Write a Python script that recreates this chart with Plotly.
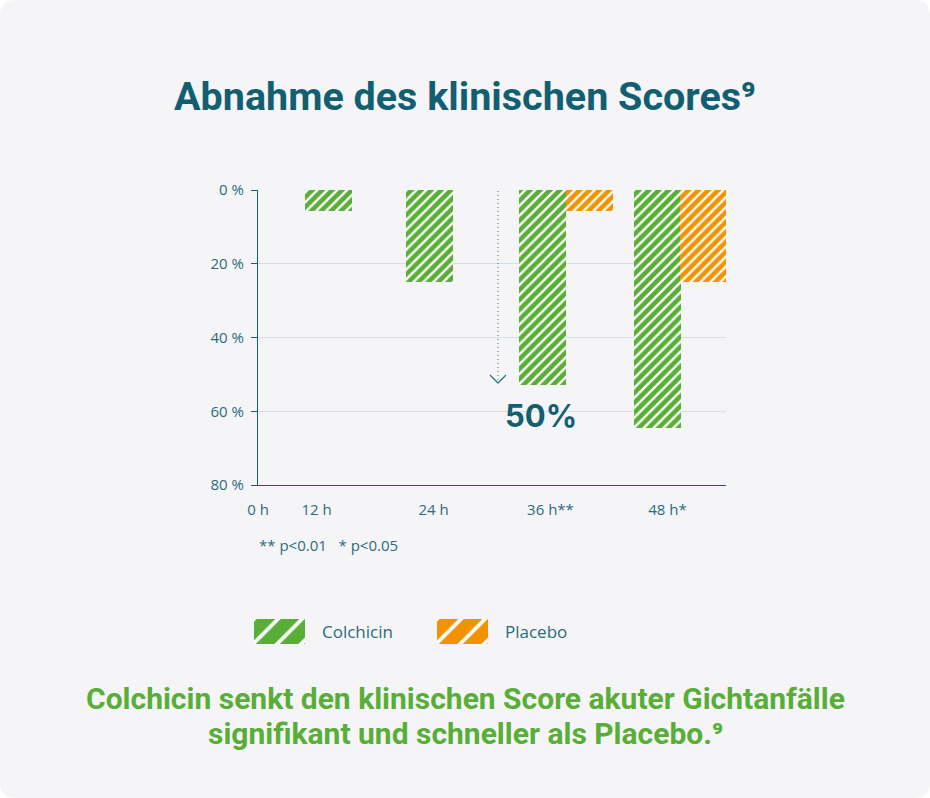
import plotly.graph_objects as go

# ---------------- data ----------------
categories = ["12 h", "24 h", "36 h**", "48 h*"]
origin_label = "0 h"
colchicin = [5.7, 25.0, 53.0, 64.5]
placebo = [None, None, 5.7, 25.0]
y_ticks = [0, 20, 40, 60, 80]
series_names = ["Colchicin", "Placebo"]

# ---------------- style ----------------
W, H = 930, 798
GREEN = "#58ae36"
ORANGE = "#f39200"
TEAL = "#135f72"
LABEL = "#2a6b7e"
GRID = "#d9dee6"
BG = "#f5f5f8"
FONT = "Open Sans"

def px(x):
    return x / W

def py(y):
    return 1 - y / H

# per-bar horizontal offsets (in category units) reproducing the original layout
green_offsets = [-0.098, -0.235, -0.269, -0.286]
orange_offsets = [0.0, 0.0, 0.132, 0.107]
bar_w = 0.398

xpos = list(range(len(categories)))

def hatch(color, size, solidity):
    return dict(color=color, line=dict(width=0),
                pattern=dict(shape="/", fgcolor="#ffffff", fgopacity=1,
                             bgcolor=color, size=size, solidity=solidity,
                             fillmode="overlay"))

fig = go.Figure()
fig.add_trace(go.Bar(
    x=xpos, y=colchicin, name=series_names[0],
    width=[bar_w] * len(xpos), offset=green_offsets,
    marker=hatch(GREEN, 7, 0.33), showlegend=False,
))
fig.add_trace(go.Bar(
    x=xpos, y=placebo, name=series_names[1],
    width=[bar_w] * len(xpos), offset=orange_offsets,
    marker=hatch(ORANGE, 7, 0.33), showlegend=False,
))

# legend swatches (own invisible axes)
fig.add_trace(go.Bar(
    x=[0], y=[1], width=[1], xaxis="x2", yaxis="y2", showlegend=False,
    hoverinfo="skip", marker=hatch(GREEN, 17, 0.22),
))
fig.add_trace(go.Bar(
    x=[0], y=[1], width=[1], xaxis="x3", yaxis="y2", showlegend=False,
    hoverinfo="skip", marker=hatch(ORANGE, 17, 0.22),
))

tick_font = dict(family=FONT, size=15, color=LABEL)

fig.update_layout(
    width=W, height=H,
    autosize=False,
    margin=dict(l=0, r=0, t=0, b=0, pad=0, autoexpand=False),
    paper_bgcolor="white",
    plot_bgcolor="rgba(0,0,0,0)",
    barmode="overlay",
    bargap=0,
    showlegend=False,
    xaxis=dict(
        domain=[px(258), px(726)],
        range=[-0.5, len(categories) - 0.5],
        tickmode="array",
        tickvals=[-0.5] + xpos,
        ticktext=[origin_label] + categories,
        tickfont=tick_font,
        showgrid=False, zeroline=False,
        showline=True, linecolor=TEAL, linewidth=1.2,
        ticks="", ticklabelstandoff=11,
        automargin=False,
        fixedrange=True,
    ),
    yaxis=dict(
        domain=[py(485), py(190)],
        range=[80, 0],
        tickmode="array",
        tickvals=y_ticks,
        ticktext=[f"{v} %" for v in y_ticks],
        tickfont=tick_font,
        showgrid=True, gridcolor=GRID, gridwidth=1,
        zeroline=False,
        showline=True, linecolor=TEAL, linewidth=1.2,
        ticks="outside", ticklen=6, tickcolor=TEAL, tickwidth=1.2,
        ticklabelstandoff=4,
        automargin=False,
        fixedrange=True,
    ),
    xaxis2=dict(domain=[px(254), px(305)], range=[-0.5, 0.5], visible=False,
                anchor="y2", fixedrange=True, automargin=False),
    xaxis3=dict(domain=[px(437), px(488)], range=[-0.5, 0.5], visible=False,
                anchor="y2", fixedrange=True, automargin=False),
    yaxis2=dict(domain=[py(644), py(619)], range=[0, 1], visible=False,
                anchor="x2", fixedrange=True, automargin=False),
)

# rounded card background
r = 16
x0, y0, x1, y1 = 0, 0, W, H
def P(x, y):
    return f"{px(x):.5f},{py(y):.5f}"
path = (f"M {P(x0 + r, y0)} L {P(x1 - r, y0)} Q {P(x1, y0)} {P(x1, y0 + r)} "
        f"L {P(x1, y1 - r)} Q {P(x1, y1)} {P(x1 - r, y1)} "
        f"L {P(x0 + r, y1)} Q {P(x0, y1)} {P(x0, y1 - r)} "
        f"L {P(x0, y0 + r)} Q {P(x0, y0)} {P(x0 + r, y0)} Z")
fig.add_shape(type="path", path=path, xref="paper", yref="paper",
              fillcolor=BG, line=dict(width=0), layer="below")

# dotted arrow
fig.add_shape(type="line", xref="paper", yref="paper",
              x0=px(498), x1=px(498), y0=py(191), y1=py(382),
              line=dict(color="#3f7f90", width=1.1, dash="1px,3px"))
fig.add_shape(type="path", xref="paper", yref="paper",
              path=f"M {P(490, 375)} L {P(498, 383)} L {P(506, 375)}",
              line=dict(color="#2f7487", width=1.3))

# texts
fig.add_annotation(text="Abnahme des klinischen Scores⁹",
                   x=px(465), y=py(97), xref="paper", yref="paper",
                   showarrow=False, xanchor="center", yanchor="middle",
                   font=dict(family="Roboto", size=39.5, color=TEAL, weight="bold"))
fig.add_annotation(text="50%", x=px(541), y=py(415), xref="paper", yref="paper",
                   showarrow=False, xanchor="center", yanchor="middle",
                   font=dict(family="Inter", size=31, color=TEAL, weight="bold"))
fig.add_annotation(text="** p<0.01   * p<0.05", x=px(257), y=py(545),
                   xref="paper", yref="paper", showarrow=False,
                   xanchor="left", yanchor="middle", font=tick_font)
fig.add_annotation(text=series_names[0], x=px(320), y=py(631),
                   xref="paper", yref="paper", showarrow=False,
                   xanchor="left", yanchor="middle",
                   font=dict(family=FONT, size=17, color=LABEL))
fig.add_annotation(text=series_names[1], x=px(503), y=py(631),
                   xref="paper", yref="paper", showarrow=False,
                   xanchor="left", yanchor="middle",
                   font=dict(family=FONT, size=17, color=LABEL))
fig.add_annotation(text="Colchicin senkt den klinischen Score akuter Gichtanfälle",
                   x=px(465), y=py(698), xref="paper", yref="paper",
                   showarrow=False, xanchor="center", yanchor="middle",
                   font=dict(family="Roboto", size=30, color=GREEN, weight="bold"))
fig.add_annotation(text="signifikant und schneller als Placebo.⁹",
                   x=px(465), y=py(733), xref="paper", yref="paper",
                   showarrow=False, xanchor="center", yanchor="middle",
                   font=dict(family="Roboto", size=30, color=GREEN, weight="bold"))

fig.write_html("out.html")
